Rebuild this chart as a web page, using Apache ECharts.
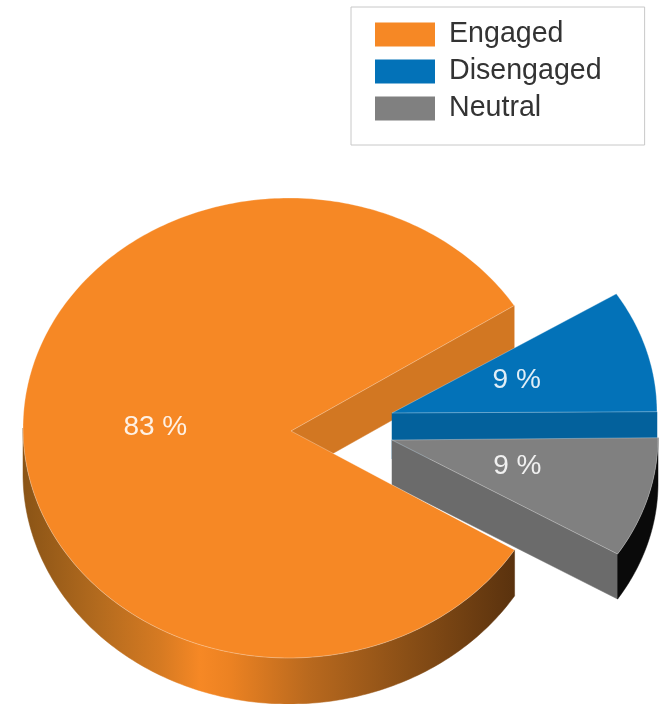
<!DOCTYPE html>
<html>
<head>
<meta charset="utf-8">
<style>html,body{margin:0;padding:0;background:#fff}#chart{width:662px;height:704px}</style>
<script src="https://cdn.jsdelivr.net/npm/echarts@6/dist/echarts.min.js"></script>
</head>
<body>
<div id="chart"></div>
<script>
// Share of respondents per engagement group
const categories = ['Engaged', 'Disengaged', 'Neutral'];
const values = [83, 9, 9];

const topColors = ['#f68825', '#0372b8', '#808080'];
const wallColors = ['#d27722', '#03619c', '#6b6b6b'];

// Projected disc of each slice: apex, ellipse centre and radii, in pixels
const discs = [
  { ax: 291, ay: 431, cx: 289, cy: 428, rx: 266, ry: 230, depth: 46 },
  { ax: 392, ay: 413, cx: 392, cy: 412, rx: 265, ry: 222, depth: 46 },
  { ax: 392, ay: 440, cx: 392, cy: 438, rx: 266, ry: 219, depth: 45 }
];
const labelSpots = [
  { r: 0.51, dy: -4 },
  { r: 0.49, dy: -3 },
  { r: 0.49, dy: -3 }
];
const startAngle = -32;
const rimStops = [
  [0, '#8a5416'], [0.15, '#b26a1e'], [0.28, '#d67a22'], [0.36, '#f68825'],
  [0.42, '#ec8222'], [0.58, '#b9691e'], [0.78, '#8a4f16'], [1, '#5a320e']
];

const total = values.reduce((a, b) => a + b, 0);

// Angular span of each slice, in degrees counter-clockwise from the +x axis.
// Engaged takes the long way round, the two others fill the gap on the right.
function slices() {
  const e = values[0] / total * 360;
  const d = values[1] / total * 360;
  const n = values[2] / total * 360;
  return [
    [startAngle, startAngle - e],
    [startAngle + n + d, startAngle + n],
    [startAngle + n, startAngle]
  ];
}
function pt(disc, deg, dz) {
  const t = deg * Math.PI / 180;
  return [disc.cx + disc.rx * Math.cos(t), disc.cy - disc.ry * Math.sin(t) + (dz || 0)];
}
function arc(disc, from, to, dz) {
  const n = Math.max(2, Math.ceil(Math.abs(to - from)));
  const out = [];
  for (let k = 0; k <= n; k++) out.push(pt(disc, from + (to - from) * k / n, dz));
  return out;
}
function poly(points, fill, z2, stroke) {
  return {
    type: 'polygon', z2, silent: true,
    shape: { points },
    style: stroke ? { fill, stroke, lineWidth: 1 } : { fill, stroke: fill, lineWidth: 0.5 }
  };
}
function radialWall(disc, deg, fill, z2) {
  const tip = pt(disc, deg);
  return poly([[disc.ax, disc.ay], tip, [tip[0], tip[1] + disc.depth], [disc.ax, disc.ay + disc.depth]], fill, z2);
}
function label(i, z2) {
  const [a0, a1] = slices()[i];
  const disc = discs[i];
  const mid = (a0 + a1) / 2 * Math.PI / 180;
  return {
    type: 'text', z2, silent: true,
    x: disc.ax + disc.rx * labelSpots[i].r * Math.cos(mid),
    y: disc.ay - disc.ry * labelSpots[i].r * Math.sin(mid) + labelSpots[i].dy,
    style: {
      text: values[i] + ' %', fill: 'rgba(255,255,255,0.88)',
      font: '28px "Liberation Sans"', align: 'center', verticalAlign: 'middle'
    }
  };
}
const edge = 'rgba(255,255,255,0.3)';

// Back to front: Engaged's far cut face, Disengaged, Neutral, then Engaged's disc
const painters = [
  function () {
    const d = discs[0];
    const [a0, a1] = slices()[0];
    const upper = arc(d, a0, -180, 0);
    const lower = arc(d, -180, a0, d.depth);
    const grad = {
      type: 'linear', x: d.cx - d.rx, y: 0, x2: pt(d, a0)[0], y2: 0, global: true,
      colorStops: rimStops.map(s => ({ offset: s[0], color: s[1] }))
    };
    const top = [[d.ax, d.ay]].concat(arc(d, a0, a1, 0));
    return [
      radialWall(d, a0 + (values[1] + values[2]) / total * 360, wallColors[0], 1),
      poly(upper.concat(lower), grad, 6),
      poly(top, topColors[0], 7, edge),
      label(0, 9)
    ];
  },
  function () {
    const d = discs[1];
    const [a0, a1] = slices()[1];
    const top = [[d.ax, d.ay]].concat(arc(d, a0, a1, 0));
    return [
      radialWall(d, a1, wallColors[1], 2),
      poly(top, topColors[1], 3, edge),
      label(1, 9)
    ];
  },
  function () {
    const d = discs[2];
    const [a0, a1] = slices()[2];
    const top = [[d.ax, d.ay]].concat(arc(d, a0, a1, 0));
    const rim = arc(d, a0, a1, 0).concat(arc(d, a1, a0, d.depth));
    return [
      radialWall(d, a1, wallColors[2], 4),
      poly(rim, '#0a0a0a', 4),
      poly(top, topColors[2], 5, edge),
      label(2, 9)
    ];
  }
];

const chart = echarts.init(document.getElementById('chart'), null, { renderer: 'canvas' });
chart.setOption({
  animation: false,
  backgroundColor: '#fff',
  legend: {
    show: true,
    left: 351, top: 7,
    orient: 'vertical',
    align: 'left',
    icon: 'rect',
    data: categories,
    itemWidth: 60, itemHeight: 24, itemGap: 8,
    padding: [13, 43, 22, 24],
    backgroundColor: '#fff',
    borderColor: '#c8c8c8', borderWidth: 1, borderRadius: 0,
    selectedMode: false,
    textStyle: {
      color: '#333', fontSize: 28.6, fontFamily: '"Liberation Sans"',
      padding: [0, 0, 0, 9]
    }
  },
  series: categories.map((name, i) => ({
    type: 'custom',
    name,
    coordinateSystem: 'none',
    silent: true,
    clip: false,
    itemStyle: { color: topColors[i] },
    data: [values[i]],
    renderItem: () => ({ type: 'group', children: painters[i]() })
  }))
});
</script>
</body>
</html>
